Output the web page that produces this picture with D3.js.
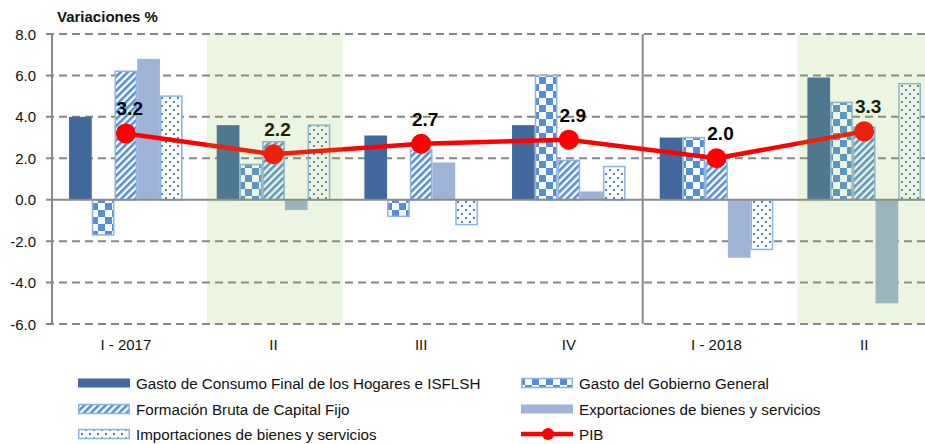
<!DOCTYPE html>
<html>
<head>
<meta charset="utf-8">
<script src="https://cdn.jsdelivr.net/npm/d3@7"></script>
<style>
  body { margin: 0; background: #fff; }
  svg { display: block; font-family: "Liberation Sans", Arial, sans-serif; }
</style>
</head>
<body>
<div id="chart"></div>
<script>
// Data
const quarters = ["I - 2017", "II", "III", "IV", "I - 2018", "II2"];
const quarterLabels = ["I - 2017", "II", "III", "IV", "I - 2018", "II"];
const seriesNames = [
  "Gasto de Consumo Final de los Hogares e ISFLSH",
  "Gasto del Gobierno General",
  "Formación Bruta de Capital Fijo",
  "Exportaciones de bienes y servicios",
  "Importaciones de bienes y servicios"
];
const hogares = [4.0, 3.6, 3.1, 3.6, 3.0, 5.9];
const gobierno = [-1.7, 1.7, -0.8, 6.0, 3.0, 4.7];
const fbkf = [6.2, 2.8, 2.4, 1.9, 1.8, 3.5];
const exportaciones = [6.8, -0.5, 1.8, 0.4, -2.8, -5.0];
const importaciones = [5.0, 3.6, -1.2, 1.6, -2.4, 5.6];
const pib = [3.2, 2.2, 2.7, 2.9, 2.0, 3.3];
const yTicks = [8, 6, 4, 2, 0, -2, -4, -6];
const shaded = ["II", "II2"];

const seriesValues = [hogares, gobierno, fbkf, exportaciones, importaciones];

// Layout
const W = 925, H = 444;
const margin = { top: 34, left: 52 };
const plotW = 886, plotH = 290;

const svg = d3.select("#chart").append("svg")
  .attr("width", W).attr("height", H);

const defs = svg.append("defs");
const blue = "#558ed5";
const borderBlue = "#8db3e2";

// checker pattern
const chk = defs.append("pattern").attr("id", "checker")
  .attr("patternUnits", "userSpaceOnUse").attr("width", 14).attr("height", 14);
chk.append("rect").attr("width", 14).attr("height", 14).attr("fill", "#fff");
chk.append("rect").attr("width", 7).attr("height", 7).attr("fill", blue);
chk.append("rect").attr("x", 7).attr("y", 7).attr("width", 7).attr("height", 7).attr("fill", blue);

// diagonal hatch
const hat = defs.append("pattern").attr("id", "hatch")
  .attr("patternUnits", "userSpaceOnUse").attr("width", 5).attr("height", 5)
  .attr("patternTransform", "rotate(45)");
hat.append("rect").attr("width", 5).attr("height", 5).attr("fill", "#fff");
hat.append("rect").attr("width", 2.6).attr("height", 5).attr("fill", blue);

// dots
const dot = defs.append("pattern").attr("id", "dots")
  .attr("patternUnits", "userSpaceOnUse").attr("width", 8).attr("height", 8);
dot.append("rect").attr("width", 8).attr("height", 8).attr("fill", "#fff");
dot.append("rect").attr("x", 1).attr("y", 1).attr("width", 2).attr("height", 2).attr("fill", "#4f81bd");
dot.append("rect").attr("x", 5).attr("y", 5).attr("width", 2).attr("height", 2).attr("fill", "#4f81bd");

const fills = ["#41699e", "url(#checker)", "url(#hatch)", "#9eb3d5", "url(#dots)"];
const strokes = [null, borderBlue, borderBlue, null, borderBlue];

// Scales
const x = d3.scaleBand().domain(quarters)
  .range([margin.left, margin.left + plotW]).paddingInner(0).paddingOuter(0);
const xi = d3.scaleBand().domain(d3.range(5))
  .range([0, x.bandwidth()]).paddingInner(0).paddingOuter(0.75);
const y = d3.scaleLinear().domain([-6, 8]).range([margin.top + plotH, margin.top]);

const g = svg.append("g");

// Grid lines
g.selectAll(".grid").data(yTicks.filter(d => d !== 0)).enter()
  .append("line")
  .attr("x1", margin.left - 6).attr("x2", W)
  .attr("y1", d => y(d)).attr("y2", d => y(d))
  .attr("stroke", "#878787").attr("stroke-width", 2)
  .attr("stroke-dasharray", "8,5");

// Y tick labels
g.selectAll(".ylab").data(yTicks).enter()
  .append("text")
  .attr("x", 36).attr("y", d => y(d) + 5.5)
  .attr("text-anchor", "end")
  .attr("font-size", 15).attr("fill", "#111")
  .text(d => d.toFixed(1));

// Bars
seriesValues.forEach((vals, si) => {
  g.selectAll(".bar" + si).data(quarters).enter()
    .append("rect")
    .attr("x", q => x(q) + xi(si) + (strokes[si] ? 0.75 : 0))
    .attr("width", xi.bandwidth() - (strokes[si] ? 1.5 : 0))
    .attr("y", (q, i) => y(Math.max(0, vals[i])))
    .attr("height", (q, i) => Math.abs(y(vals[i]) - y(0)))
    .attr("fill", fills[si])
    .attr("stroke", strokes[si])
    .attr("stroke-width", strokes[si] ? 1.5 : 0);
});

// Axis lines
g.append("line").attr("x1", margin.left).attr("x2", W)
  .attr("y1", y(0)).attr("y2", y(0))
  .attr("stroke", "#8a8a8a").attr("stroke-width", 2);
g.append("line").attr("x1", margin.left - 6).attr("x2", margin.left)
  .attr("y1", y(0)).attr("y2", y(0))
  .attr("stroke", "#8a8a8a").attr("stroke-width", 2);
g.append("line").attr("x1", margin.left).attr("x2", margin.left)
  .attr("y1", y(8)).attr("y2", y(-6))
  .attr("stroke", "#8a8a8a").attr("stroke-width", 2);
// year separator
g.append("line").attr("x1", x("I - 2018")).attr("x2", x("I - 2018"))
  .attr("y1", y(8)).attr("y2", y(-6))
  .attr("stroke", "#8a8a8a").attr("stroke-width", 2);

// X labels
g.selectAll(".xlab").data(quarters).enter()
  .append("text")
  .attr("x", q => x(q) + x.bandwidth() / 2)
  .attr("y", y(-6) + 26)
  .attr("text-anchor", "middle")
  .attr("font-size", 15).attr("fill", "#111")
  .text((q, i) => quarterLabels[i]);

// PIB line
const cx = q => x(q) + x.bandwidth() / 2;
const line = d3.line().x(d => cx(d.q)).y(d => y(d.v));
const pibData = quarters.map((q, i) => ({ q, v: pib[i] }));
g.append("path").datum(pibData)
  .attr("d", line).attr("fill", "none")
  .attr("stroke", "#ff0000").attr("stroke-width", 4.5);
g.selectAll(".pt").data(pibData).enter()
  .append("circle")
  .attr("cx", d => cx(d.q)).attr("cy", d => y(d.v))
  .attr("r", 10).attr("fill", "#ff0000");
g.selectAll(".pl").data(pibData).enter()
  .append("text")
  .attr("x", d => cx(d.q) + 4).attr("y", d => y(d.v) - 18)
  .attr("text-anchor", "middle")
  .attr("font-size", 19).attr("font-weight", "bold").attr("fill", "#000")
  .text(d => d.v.toFixed(1));

// Shaded bands (overlay)
g.selectAll(".band").data(shaded).enter()
  .append("rect")
  .attr("x", q => x(q) + x.bandwidth() * 0.05)
  .attr("width", x.bandwidth() * 0.92)
  .attr("y", y(8)).attr("height", y(-6) - y(8))
  .attr("fill", "rgb(143,196,78)").attr("fill-opacity", 0.17);

// Title
svg.append("text").attr("x", 57).attr("y", 22)
  .attr("font-size", 15).attr("font-weight", "bold").attr("fill", "#111")
  .text("Variaciones %");

// Legend
const legendItems = [
  { name: seriesNames[0], si: 0, col: 0, row: 0 },
  { name: seriesNames[1], si: 1, col: 1, row: 0 },
  { name: seriesNames[2], si: 2, col: 0, row: 1 },
  { name: seriesNames[3], si: 3, col: 1, row: 1 },
  { name: seriesNames[4], si: 4, col: 0, row: 2 },
  { name: "PIB", si: -1, col: 1, row: 2 }
];
const colX = [78, 521];
const rowY = [383, 409, 434];
const lg = svg.append("g");
legendItems.forEach(it => {
  const lx = colX[it.col], ly = rowY[it.row];
  if (it.si >= 0) {
    lg.append("rect")
      .attr("x", lx + (strokes[it.si] ? 0.75 : 0)).attr("y", ly - 4.5)
      .attr("width", 52 - (strokes[it.si] ? 1.5 : 0)).attr("height", 9)
      .attr("fill", fills[it.si])
      .attr("stroke", strokes[it.si])
      .attr("stroke-width", strokes[it.si] ? 1.5 : 0);
  } else {
    lg.append("line").attr("x1", lx).attr("x2", lx + 52)
      .attr("y1", ly).attr("y2", ly)
      .attr("stroke", "#ff0000").attr("stroke-width", 4.5);
    lg.append("circle").attr("cx", lx + 27).attr("cy", ly).attr("r", 6)
      .attr("fill", "#ff0000");
  }
  lg.append("text").attr("x", lx + 58).attr("y", ly + 5.5)
    .attr("font-size", 15.2).attr("fill", "#111")
    .text(it.name);
});
</script>
</body>
</html>
